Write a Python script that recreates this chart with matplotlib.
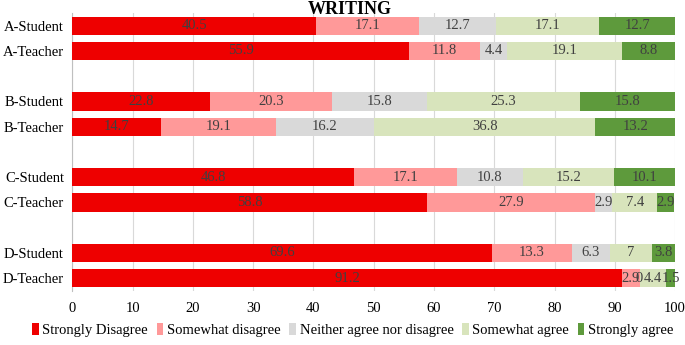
import matplotlib
matplotlib.use("Agg")
import matplotlib.pyplot as plt
import numpy as np

plt.rcParams['font.family'] = ['Liberation Serif', 'DejaVu Serif']

title = "WRITING"
categories = ["A-Student", "A-Teacher", "B-Student", "B-Teacher",
              "C-Student", "C-Teacher", "D-Student", "D-Teacher"]
series_names = ["Strongly Disagree", "Somewhat disagree",
                "Neither agree nor disagree", "Somewhat agree", "Strongly agree"]
strongly_disagree = [40.5, 55.9, 22.8, 14.7, 46.8, 58.8, 69.6, 91.2]
somewhat_disagree = [17.1, 11.8, 20.3, 19.1, 17.1, 27.9, 13.3, 2.9]
neither = [12.7, 4.4, 15.8, 16.2, 10.8, 2.9, 6.3, 0]
somewhat_agree = [17.1, 19.1, 25.3, 36.8, 15.2, 7.4, 7, 4.4]
strongly_agree = [12.7, 8.8, 15.8, 13.2, 10.1, 2.9, 3.8, 1.5]
x_ticks = [0, 10, 20, 30, 40, 50, 60, 70, 80, 90, 100]

series = [strongly_disagree, somewhat_disagree, neither, somewhat_agree, strongly_agree]
colors = ["#EE0000", "#FF9999", "#D9D9D9", "#D8E4BC", "#5E9A3C"]

fig = plt.figure(figsize=(6.85, 3.45), dpi=100)
ax = fig.add_axes([0.1055, 0.157, 0.88, 0.805])

# two rows per group, blank row between groups
ypos = np.array([(i // 2) * 3 + (i % 2) for i in range(len(categories))], dtype=float)

left = np.zeros(len(categories))
for name, vals, c in zip(series_names, series, colors):
    vals = np.array(vals, dtype=float)
    bars = ax.barh(ypos, vals, left=left, height=0.72, color=c, label=name, zorder=3)
    ax.bar_label(bars, labels=['{:g}'.format(v) for v in vals], label_type='center',
                 color="#404040", fontsize=10.5, zorder=4)
    left += vals

ax.set_ylim(ypos.max() + 0.5, -0.5)
ax.set_xlim(0, 100)
ax.set_xticks(x_ticks)
ax.set_yticks(ypos)
ax.set_yticklabels(categories, fontsize=10.5, color="#000000")
ax.tick_params(axis='x', labelsize=10.5, length=0, pad=8)
ax.tick_params(axis='y', length=0, pad=6)
ax.grid(axis='x', color="#D9D9D9", linewidth=0.8, zorder=0)
for s in ['top', 'right', 'bottom']:
    ax.spines[s].set_visible(False)
ax.spines['left'].set_color("#BFBFBF")

fig.text(0.511, 0.998, title, fontsize=13, fontweight='bold', ha='center', va='top')

fig.legend(loc='lower center', bbox_to_anchor=(0.515, -0.015), ncol=5, frameon=False,
           fontsize=10.5, handlelength=0.45, handleheight=0.9, handletextpad=0.25,
           columnspacing=0.6)

fig.savefig("out.png", dpi=100)
